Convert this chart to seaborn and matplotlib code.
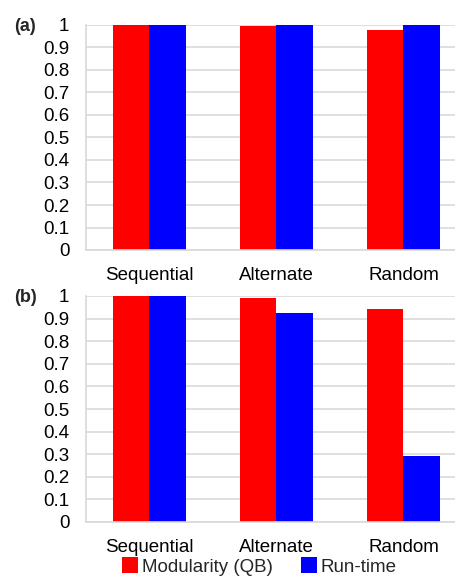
import numpy as np
import pandas as pd
import seaborn as sns
import matplotlib.pyplot as plt
from matplotlib.patches import Patch

sns.set_theme(style="white")
plt.rcParams['font.family'] = ['Liberation Sans', 'DejaVu Sans']

schemes = ["Sequential", "Alternate", "Random"]
series = ["Modularity (QB)", "Run-time"]
modularity_a = [1.0, 0.994, 0.976]
runtime_a = [1.0, 1.0, 1.0]
modularity_b = [1.0, 0.993, 0.942]
runtime_b = [1.0, 0.923, 0.29]
colors = ["#FF0000", "#0000FF"]
yticks = [0, 0.1, 0.2, 0.3, 0.4, 0.5, 0.6, 0.7, 0.8, 0.9, 1]


def long_form(mod, rt):
    return pd.DataFrame({
        "scheme": schemes * 2,
        "series": [series[0]] * 3 + [series[1]] * 3,
        "value": mod + rt,
    })


W, H = 456, 578
fig = plt.figure(figsize=(W / 100, H / 100), dpi=100)
# axes extend past the right edge, like the original crop
ax_a = fig.add_axes([86 / W, (H - 250) / H, 381 / W, 225 / H])
ax_b = fig.add_axes([86 / W, (H - 522) / H, 381 / W, 226 / H])

for ax, (mod, rt), tag in [(ax_a, (modularity_a, runtime_a), "(a)"),
                           (ax_b, (modularity_b, runtime_b), "(b)")]:
    df = long_form(mod, rt)
    sns.barplot(data=df, x="scheme", y="value", hue="series", palette=colors,
                width=0.567, gap=0, ax=ax, legend=False, linewidth=0, saturation=1)
    ax.set_xlim(-0.5, 2.5)
    ax.set_ylim(0, 1)
    ax.set_yticks(yticks)
    ax.set_yticklabels([f"{t:g}" for t in yticks])
    ax.yaxis.grid(True, color="#D9D9D9", linewidth=1.2)
    ax.set_axisbelow(True)
    ax.set_xlabel("")
    ax.set_ylabel("")
    for s in ["top", "right"]:
        ax.spines[s].set_visible(False)
    for s in ["left", "bottom"]:
        ax.spines[s].set_color("#D9D9D9")
        ax.spines[s].set_linewidth(1.2)
    ax.tick_params(axis="both", length=0, labelsize=13.5, colors="black")
    ax.tick_params(axis="x", pad=12)
    ax.tick_params(axis="y", pad=12)
    ax.text(-72 / 381, 1 + 7 / 225, tag, transform=ax.transAxes, fontsize=13,
            fontweight="bold", ha="left", va="top")

handles = [Patch(facecolor=c, edgecolor="none") for c in colors]
fig.legend(handles, series, loc="lower left", bbox_to_anchor=(122 / W, 0.004),
           ncol=2, frameon=False, fontsize=13.5, handlelength=0.85, handleheight=0.9,
           handletextpad=0.2, columnspacing=1.5, borderpad=0.0, borderaxespad=0.0)

fig.savefig("out.png", dpi=100)
